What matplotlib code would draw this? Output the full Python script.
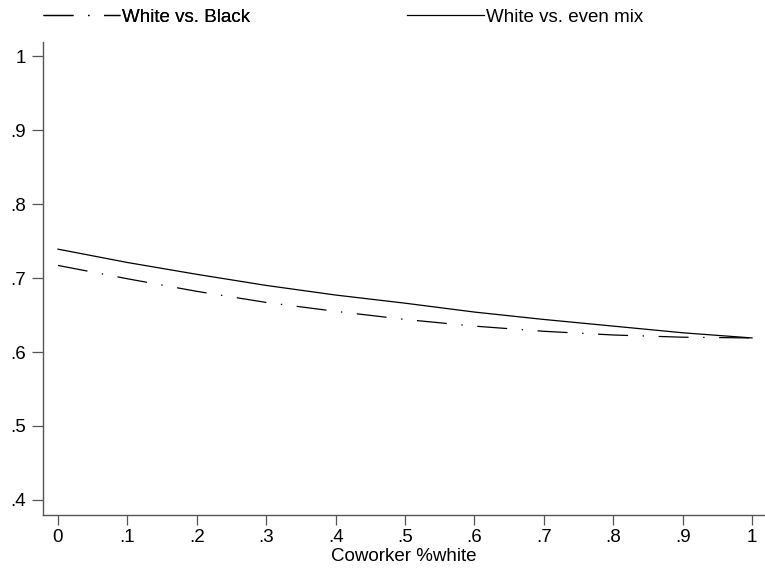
import matplotlib
matplotlib.use("Agg")
import matplotlib.pyplot as plt

plt.rcParams['font.family'] = ['Liberation Sans', 'DejaVu Sans']
plt.rcParams['lines.scale_dashes'] = False

coworker_white = [0.0, 0.1, 0.2, 0.3, 0.4, 0.5, 0.6, 0.7, 0.8, 0.9, 1.0]
white_vs_black = [0.717, 0.699, 0.682, 0.667, 0.655, 0.644, 0.635, 0.628, 0.623, 0.620, 0.619]
white_vs_mix = [0.739, 0.721, 0.705, 0.690, 0.677, 0.666, 0.654, 0.644, 0.635, 0.626, 0.619]
x_ticks = [0, .1, .2, .3, .4, .5, .6, .7, .8, .9, 1]
x_ticklabels = ['0', '.1', '.2', '.3', '.4', '.5', '.6', '.7', '.8', '.9', '1']
y_ticks = [.4, .5, .6, .7, .8, .9, 1]
y_ticklabels = ['.4', '.5', '.6', '.7', '.8', '.9', '1']

FS = 13.5

fig = plt.figure(figsize=(7.65, 5.69), dpi=100)
ax = fig.add_axes([43/765, 1-515/569, (765-43)/765, (515-42)/569])

dashdot = (0, (21.6, 10.5, 1.0, 10.5))
l1, = ax.plot(coworker_white, white_vs_black, color='black', lw=0.9,
              linestyle=dashdot, label='White vs. Black')
l2, = ax.plot(coworker_white, white_vs_mix, color='black', lw=0.9,
              linestyle='-', label='White vs. even mix')

ax.set_xlim(-0.0216, 1.0187)
ax.set_ylim(0.3797, 1.019)
ax.set_xticks(x_ticks)
ax.set_xticklabels(x_ticklabels)
ax.set_yticks(y_ticks)
ax.set_yticklabels(y_ticklabels)
for s in ['top', 'right']:
    ax.spines[s].set_visible(False)
for s in ['left', 'bottom']:
    ax.spines[s].set_color('#555555')
    ax.spines[s].set_linewidth(1.0)
ax.tick_params(axis='both', direction='out', width=0.9,
               color='#555555', labelsize=FS)
ax.tick_params(axis='x', length=7.2, pad=3.0)
ax.tick_params(axis='y', length=8.2, pad=4.2)
ax.set_xlabel('Coworker %white', fontsize=FS, labelpad=1.5)

hl = 77 / (FS * 100 / 72)
leg1 = fig.legend(handles=[l1], loc='center left',
                  bbox_to_anchor=(43/765, 1-17/569), frameon=False,
                  fontsize=FS, handlelength=hl, handletextpad=0.1,
                  borderpad=0, borderaxespad=0)
fig.add_artist(leg1)
leg2 = fig.legend(handles=[l2], loc='center left',
                  bbox_to_anchor=(407/765, 1-17/569), frameon=False,
                  fontsize=FS, handlelength=hl, handletextpad=0.1,
                  borderpad=0, borderaxespad=0)

fig.savefig('out.png', dpi=100, facecolor='white')
